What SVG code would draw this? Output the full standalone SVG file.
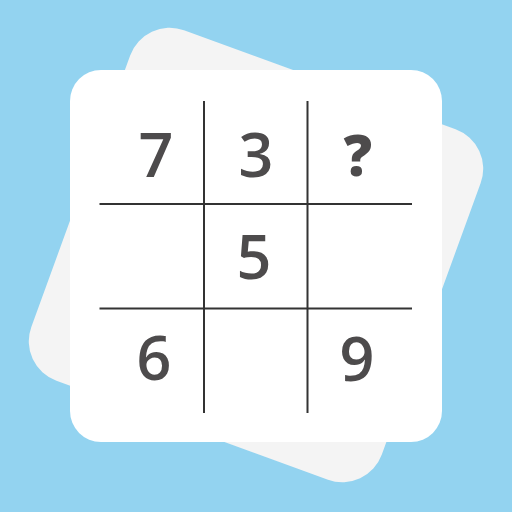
<svg xmlns="http://www.w3.org/2000/svg" width="512" height="512" viewBox="0 0 512 512">
<style>
.card{stroke:none}
.grid line{stroke:#333333;stroke-width:2}
.num{font-family:"Open Sans","Noto Sans","DejaVu Sans",sans-serif;font-size:61px;font-weight:600;fill:#4d4b4c;text-anchor:middle}
.num.q{font-weight:800;font-size:56px}
</style>
<rect width="512" height="512" fill="#93d3f0"/>
<g id="back-card">
<rect class="card" x="69.5" y="68.5" width="373" height="373" rx="42" fill="#f4f4f4" transform="rotate(20 256 255)"/>
</g>
<g id="front-card">
<rect class="card" x="70" y="70" width="372" height="372" rx="31" fill="#ffffff"/>
</g>
<g id="grid" class="grid">
<line x1="204" y1="101" x2="204" y2="413"/>
<line x1="307.5" y1="101" x2="307.5" y2="413"/>
<line x1="99.5" y1="204" x2="412" y2="204"/>
<line x1="99.5" y1="308.5" x2="412" y2="308.5"/>
</g>
<g id="cell-r1c1"><text class="num" x="156" y="177">7</text></g>
<g id="cell-r1c2"><text class="num" x="256" y="177">3</text></g>
<g id="cell-r1c3"><text class="num q" x="358" y="176">?</text></g>
<g id="cell-r2c2"><text class="num" x="254" y="279">5</text></g>
<g id="cell-r3c1"><text class="num" x="154" y="380">6</text></g>
<g id="cell-r3c3"><text class="num" x="357" y="381">9</text></g>
</svg>
